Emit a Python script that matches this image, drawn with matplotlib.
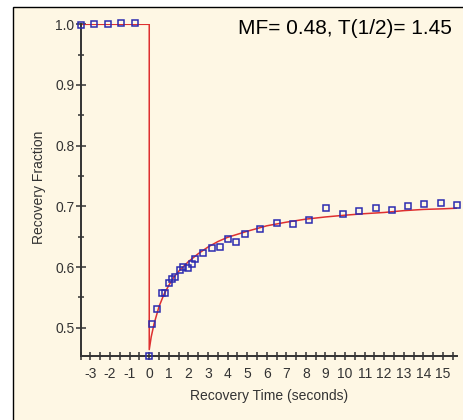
import matplotlib
matplotlib.use("Agg")
import matplotlib.pyplot as plt
from matplotlib.patches import Rectangle
from matplotlib.ticker import MultipleLocator

plt.rcParams['font.family'] = ['Liberation Sans', 'DejaVu Sans']

# ===================== 数据=====================
pre_t = [-3.5, -2.81, -2.11, -1.43, -0.74]
pre_y = [0.999, 1.0005, 1.0005, 1.002, 1.0025]

rec_t = [0.0, 0.15, 0.41, 0.66, 0.80, 1.00, 1.15, 1.33, 1.58, 1.74, 1.96, 2.16, 2.34,
         2.77, 3.20, 3.61, 4.04, 4.44, 4.87, 5.68, 6.50, 7.34, 8.18, 9.04, 9.89, 10.72,
         11.56, 12.40, 13.21, 14.05, 14.88, 15.70]
rec_y = [0.454, 0.507, 0.531, 0.557, 0.558, 0.573, 0.581, 0.584, 0.596, 0.600, 0.599,
         0.605, 0.613, 0.623, 0.631, 0.633, 0.646, 0.642, 0.654, 0.662, 0.673, 0.671,
         0.677, 0.698, 0.688, 0.692, 0.698, 0.694, 0.700, 0.704, 0.705, 0.702]

# 拟合曲线（读点）
fit_t = [-3.5, 0.0, 0.0, 0.1, 0.25, 0.5, 0.75, 1.0, 1.25, 1.5, 2.0, 2.5, 3.0, 3.5, 4.0,
         5.0, 6.0, 7.0, 8.0, 9.0, 10.0, 11.0, 12.0, 13.0, 14.0, 15.0, 15.7]
fit_y = [1.0, 1.0, 0.464, 0.485, 0.507, 0.535, 0.555, 0.570, 0.583, 0.593, 0.609, 0.622,
         0.633, 0.642, 0.649, 0.659, 0.668, 0.674, 0.679, 0.6826, 0.6855, 0.688, 0.690,
         0.693, 0.695, 0.696, 0.697]

annot = 'MF= 0.48, T(1/2)= 1.45'
xlabel = 'Recovery Time (seconds)'
ylabel = 'Recovery Fraction'

BG = '#FEF7E4'
DARK = '#333333'

fig = plt.figure(figsize=(4.63, 4.20), dpi=100, facecolor='white')
# 面板背景 + 上/左黑边
panel = Rectangle((12.5 / 463, -0.1), 1.2, 1.1 - 7 / 420,
                  transform=fig.transFigure, facecolor=BG,
                  edgecolor='black', lw=1.0, zorder=-10)
fig.patches.append(panel)

ax = fig.add_axes([80.7 / 463, 64.3 / 420, 376 / 463, 331.4 / 420])
ax.patch.set_visible(False)

ax.plot(fit_t, fit_y, color='#DE3030', lw=1.1, zorder=2)
ax.plot(pre_t + rec_t, pre_y + rec_y, ls='none', marker='s', ms=4.4, mfc='none',
        mec='#2B2BB0', mew=1.1, zorder=3, clip_on=False)

ax.set_xlim(-3.5, 15.7)
ax.set_ylim(0.454, 1.0)

for s in ['top', 'right']:
    ax.spines[s].set_visible(False)
for s in ['left', 'bottom']:
    ax.spines[s].set_color(DARK)
    ax.spines[s].set_linewidth(1.4)

ax.xaxis.set_major_locator(MultipleLocator(1))
ax.xaxis.set_minor_locator(MultipleLocator(0.5))
ax.yaxis.set_major_locator(MultipleLocator(0.1))
ax.yaxis.set_minor_locator(MultipleLocator(0.05))
ax.tick_params(axis='x', which='both', direction='inout', length=6, width=1.1,
               color=DARK, labelcolor=DARK, labelsize=10, pad=5)
ax.tick_params(axis='y', which='major', direction='inout', length=7, width=1.1,
               color=DARK, labelcolor=DARK, labelsize=10, pad=1)
ax.tick_params(axis='y', which='minor', direction='inout', length=5, width=1.1, color=DARK)
ax.set_xticks(range(-3, 16))
ax.set_xticklabels([str(v) for v in range(-3, 16)])
ax.yaxis.set_major_formatter(plt.FuncFormatter(lambda v, p: f'{v:.1f}'))

ax.set_xlabel(xlabel, fontsize=10, color=DARK)
ax.xaxis.label.set_va('center')
ax.xaxis.set_label_coords(0.502, -0.1216)
ax.set_ylabel(ylabel, fontsize=10, color=DARK)
ax.yaxis.label.set_va('center')
ax.yaxis.set_label_coords(-0.111, 0.509)

fig.text(452 / 463, 1 - 34.3 / 420, annot, ha='right', va='baseline',
         fontsize=15, color='black')

fig.savefig('out.png', dpi=100, facecolor=fig.get_facecolor())
